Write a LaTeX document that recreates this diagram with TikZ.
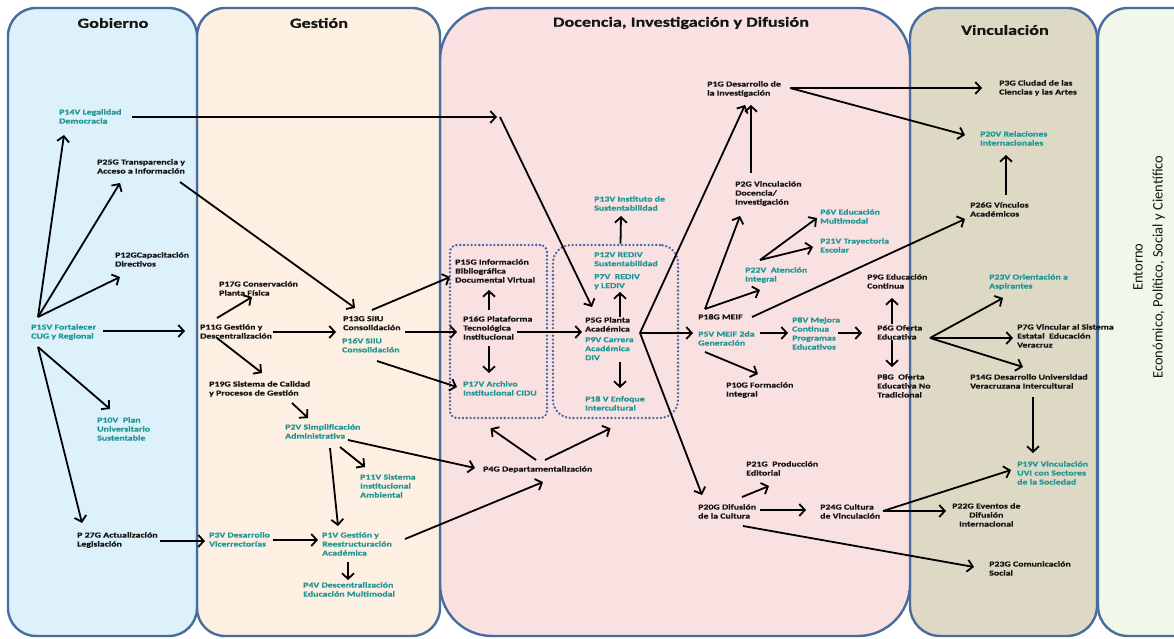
\documentclass[tikz,border=0pt]{standalone}
\usepackage{fontspec}
\usetikzlibrary{arrows.meta,calc}
\newfontfamily\labelface{Carlito}[FakeStretch=1.3, BoldFeatures={FakeBold=0.6}]
\newfontfamily\plainface{Carlito}
\definecolor{tealc}{RGB}{30,150,150}
\definecolor{ink}{RGB}{20,20,20}
\definecolor{frame}{RGB}{72,108,158}
\definecolor{dotc}{RGB}{70,100,160}
\definecolor{gobfill}{RGB}{221,241,250}
\definecolor{gesfill}{RGB}{253,239,225}
\definecolor{docfill}{RGB}{249,225,225}
\definecolor{vinfill}{RGB}{221,217,197}
\definecolor{entfill}{RGB}{241,248,233}
\tikzset{
  bk/.style={font=\labelface\bfseries\fontsize{7.6}{9}\selectfont, text=ink,
    align=left, inner sep=0pt, anchor=north west},
  tl/.style={bk, text=tealc},
  title/.style={font=\labelface\bfseries\fontsize{14}{16}\selectfont, text=ink, inner sep=0pt},
  panel/.style={draw=frame, line width=2.4pt},
  dotbox/.style={draw=dotc, line width=2.6pt, dash pattern=on 0pt off 3.8pt,
    line cap=round, inner sep=0pt},
  arr/.style={-{Straight Barb[length=5.5pt,width=12pt]}, line width=1.8pt, black},
}
\begin{document}
\begin{tikzpicture}[x=1pt,y=-1pt]
\useasboundingbox (0,0) rectangle (1174,639);
\fill[white] (0,0) rectangle (1174,639);
\begin{scope}
\clip (0,0) rectangle (1174,639);
% column panels
\draw[panel, fill=entfill, rounded corners=30pt] (1098,8) rectangle (1240,636);
\draw[panel, fill=vinfill, rounded corners=30pt] (910,8) rectangle (1097,636);
\draw[panel, fill=docfill, rounded corners=52pt] (440,8) rectangle (910,636);
\draw[panel, fill=gesfill, rounded corners=28pt] (197,8) rectangle (440,636);
\draw[panel, fill=gobfill, rounded corners=28pt] (8,8) rectangle (197,636);
\end{scope}

% column titles
\node[title] (tgob) at (113,23) {Gobierno};
\node[title] (tges) at (319,23) {Gestión};
\node[title] (tdoc) at (681,23) {Docencia, Investigación y Difusión};
\node[title] (tvin) at (1005,30) {Vinculación};
\node[rotate=90, align=center, inner sep=0pt, text=ink,
  font=\plainface\fontsize{14.5}{20}\selectfont] (tent) at (1149,267)
  {Entorno\\Económico, Político, Social y Científico};

% dotted groups
\node[dotbox, rounded corners=7pt, minimum width=97pt, minimum height=173pt] (box1) at (498.5,331.5) {};
\node[dotbox, rounded corners=18pt, minimum width=125pt, minimum height=173pt] (box2) at (615.5,331.5) {};

% Gobierno
\node[tl] (p14v) at (59,109) {P14V Legalidad\\Democracia};
\node[bk] (p25g) at (97,159) {P25G Transparencia y\\Acceso a Información};
\node[bk] (p12g) at (115,252) {P12GCapacitación\\Directivos};
\node[tl] (p15v) at (31,324) {P15V Fortalecer\\CUG y Regional};
\node[tl] (p10v) at (97,417) {P10V\ \ Plan\\Universitario\\Sustentable};
\node[bk] (p27g) at (77,532) {P 27G Actualización\\Legislación};
% Gestion
\node[bk] (p17g) at (219,281) {P17G Conservación\\Planta Física};
\node[bk] (p11g) at (200,324) {P11G Gestión y\\Descentralización};
\node[bk] (p19g) at (209,381) {P19G Sistema de Calidad\\y Procesos de Gestión};
\node[bk] (p13g) at (343,316) {P13G SIIU\\Consolidación};
\node[tl] (p16v) at (342,338) {P16V SIIU\\Consolidación};
\node[tl] (p2v) at (285,424) {P2V Simplificación\\Administrativa};
\node[tl] (p11v) at (360,474) {P11V Sistema\\Institucional\\Ambiental};
\node[tl] (p3v) at (209,532) {P3V Desarrollo\\Vicerrectorías};
\node[tl] (p1v) at (322,532) {P1V Gestión y\\Reestructuración\\Académica};
\node[tl] (p4v) at (303,582) {P4V Descentralización\\Educación Multimodal};
% Docencia, Investigacion y Difusion
\node[bk] (p15g) at (455,259) {P15G Información\\Bibliográfica\\Documental Virtual};
\node[bk] (p16g) at (463,316) {P16G Plataforma\\Tecnológica\\Institucional};
\node[tl] (p17v) at (463,381) {P17V Archivo\\Institucional CIDU};
\node[tl] (p13v) at (594,196) {P13V Instituto de\\Sustentabilidad};
\node[tl] (p12v) at (594,252) {P12V REDIV\\Sustentabilidad};
\node[tl] (p7v) at (594,274) {P7V\ \ REDIV\\y LEDIV};
\node[bk] (p5g) at (585,317) {P5G Planta\\Académica};
\node[tl] (p9v) at (585,337) {P9V Carrera\\Académica\\DIV};
\node[tl] (p18v) at (585,396) {P18 V Enfoque\\Intercultural};
\node[bk] (p4g) at (483,466) {P4G Departamentalización};
\node[bk] (p1g) at (707,81) {P1G Desarrollo de\\la Investigación};
\node[bk] (p2g) at (735,181) {P2G Vinculación\\Docencia/\\Investigación};
\node[tl] (p6v) at (820,209) {P6V Educación\\Multimodal};
\node[tl] (p21v) at (820,238) {P21V Trayectoria\\Escolar};
\node[tl] (p22v) at (745,267) {P22V\ \ Atención\\Integral};
\node[bk] (p18g) at (698,314) {P18G MEIF};
\node[tl] (p5v) at (698,331) {P5V MEIF 2da\\Generación};
\node[tl] (p8v) at (792,317) {P8V Mejora\\Continua\\Programas\\Educativos};
\node[bk] (p10g) at (726,382) {P10G Formación\\Integral};
\node[bk] (p9g) at (867,274) {P9G Educación\\Continua};
\node[bk] (p6g) at (877,325) {P6G Oferta\\Educativa};
\node[bk] (p8g) at (877,374) {P8G\ \ Oferta\\Educativa No\\Tradicional};
\node[bk] (p20g) at (698,504) {P20G Difusión\\de la Cultura};
\node[bk] (p21g) at (746,461) {P21G\ \ Producción\\Editorial};
\node[bk] (p24g) at (820,504) {P24G Cultura\\de Vinculación};
% Vinculacion
\node[bk] (p3g) at (999,80) {P3G Ciudad de las\\Ciencias y las Artes};
\node[tl] (p20v) at (980,131) {P20V Relaciones\\Internacionales};
\node[bk] (p26g) at (970,202) {P26G Vínculos\\Académicos};
\node[tl] (p23v) at (989,274) {P23V Orientación a\\Aspirantes};
\node[bk] (p7g) at (1017,324) {P7G Vincular al Sistema\\Estatal\ \ Educación\\Veracruz};
\node[bk] (p14g) at (970,374) {P14G Desarrollo Universidad\\Veracruzana Intercultural};
\node[tl] (p19v) at (1017,461) {P19V Vinculación\\UVI con Sectores\\de la Sociedad};
\node[bk, align=center] (p22g) at (952,503) {P22G Eventos de\\Difusión\\Internacional};
\node[bk] (p23g) at (989,561) {P23G Comunicación\\Social};

% branching points of the fans
\coordinate (f15a) at ($(p15v.north west)+(7,-7)$);
\coordinate (f15b) at ($(p15v.north west)+(7,23)$);
\coordinate (bend14) at ($(p14v.north west)+(441,8)$);
\coordinate (f5) at ($(p5g.north west)+(55,16)$);
\coordinate (f18) at ($(p18g.north west)+(7,-5)$);
\coordinate (f22) at ($(p22v.north west)+(15,-7)$);
\coordinate (f1) at ($(p1g.north west)+(83,7)$);
\coordinate (f6) at ($(p6g.north west)+(53,13)$);
\coordinate (f24) at ($(p24g.north west)+(63,7)$);

% Gobierno connectors
\draw[arr] (f15a) -- ($(p14v.north west)+(5,26)$);
\draw[arr] (f15a) -- ($(p25g.north west)+(23,24)$);
\draw[arr] (f15a) -- ($(p12g.north west)+(5,25)$);
\draw[arr] ($(p15v.north west)+(72,7)$) -- ($(p11g.north west)+(-15,7)$);
\draw[arr] (f15b) -- ($(p10v.north west)+(13,-8)$);
\draw[arr] (f15b) -- ($(p27g.north west)+(5,-9)$);
\draw[arr] ($(p27g.north west)+(83,9)$) -- ($(p3v.north west)+(-4,9)$);
\draw[arr] ($(p14v.north west)+(73,8)$) -- ($(bend14)+(-3,0)$);
\draw[arr] (bend14) -- ($(p5g.north west)+(7,-10)$);
\draw[arr] ($(p25g.north west)+(83,23)$) -- ($(p13g.north west)+(12,-8)$);

% Gestion connectors
\draw[arr] ($(p3v.north west)+(64,8)$) -- ($(p1v.north west)+(-4,8)$);
\draw[arr] ($(p1v.north west)+(26,30)$) -- ($(p4v.north west)+(45,-2)$);
\draw[arr] ($(p1v.north west)+(83,7)$) -- ($(p4g.north west)+(60,16)$);
\draw[arr] ($(p19g.north west)+(83,22)$) -- ($(p2v.north west)+(23,-6)$);
\draw[arr] ($(p2v.north west)+(45,24)$) -- ($(p1v.north west)+(16,-6)$);
\draw[arr] ($(p2v.north west)+(55,23)$) -- ($(p11v.north west)+(5,-7)$);
\draw[arr] ($(p2v.north west)+(63,16)$) -- ($(p4g.north west)+(-8,2)$);
\draw[arr] ($(p11g.north west)+(17,-6)$) -- ($(p17g.north west)+(33,16)$);
\draw[arr] ($(p11g.north west)+(73,8)$) -- ($(p13g.north west)+(-7,16)$);
\draw[arr] ($(p11g.north west)+(17,14)$) -- ($(p19g.north west)+(53,-8)$);
\draw[arr] ($(p13g.north west)+(29,-6)$) -- ($(p15g.north west)+(-5,18)$);
\draw[arr] ($(p13g.north west)+(62,16)$) -- ($(p16g.north west)+(-6,16)$);
\draw[arr] ($(p16v.north west)+(35,23)$) -- ($(p17v.north west)+(-6,6)$);

% Docencia connectors
\draw[arr] ($(p16g.north west)+(26,-6)$) -- ($(p15g.north west)+(34,31)$);
\draw[arr] ($(p16g.north west)+(26,30)$) -- ($(p17v.north west)+(26,-8)$);
\draw[arr] ($(p16g.north west)+(54,16)$) -- ($(p5g.north west)+(-3,15)$);
\draw[arr] ($(p5g.north west)+(35,0)$) -- ($(p7v.north west)+(26,18)$);
\draw[arr] ($(box2.north)+(5,0)$) -- ($(p13v.north west)+(27,20)$);
\draw[arr] ($(p9v.north west)+(35,25)$) -- ($(p18v.north west)+(35,-8)$);
\draw[arr] (f5) -- ($(p18g.north west)+(-5,19)$);
\draw[arr] (f5) -- ($(p1g.north west)+(38,24)$);
\draw[arr] (f5) -- ($(p20g.north west)+(4,-9)$);
\draw[arr] ($(p4g.north west)+(53,-6)$) -- ($(box1.south)+(-8,9)$);
\draw[arr] ($(p4g.north west)+(62,-6)$) -- ($(box2.south)+(-5,9)$);
\draw[arr] ($(p20g.north west)+(44,-7)$) -- ($(p21g.north west)+(23,25)$);
\draw[arr] ($(p20g.north west)+(62,6)$) -- ($(p24g.north west)+(-14,6)$);
\draw[arr] ($(p20g.north west)+(45,22)$) -- ($(p23g.north west)+(-15,6)$);
\draw[arr] (f24) -- ($(p22g.north west)+(-6,8)$);
\draw[arr] (f24) -- ($(p19v.north west)+(-6,9)$);
\draw[arr] ($(p5v.north west)+(62,2)$) -- ($(p8v.north west)+(-4,16)$);
\draw[arr] ($(p5v.north west)+(7,21)$) -- ($(p10g.north west)+(32,-8)$);
\draw[arr] (f18) -- ($(p22v.north west)+(15,23)$);
\draw[arr] (f18) -- ($(p2g.north west)+(5,35)$);
\draw[arr] ($(p18g.north west)+(54,3)$) -- ($(p26g.north west)+(-5,17)$);
\draw[arr] ($(p2g.north west)+(16,-8)$) -- ($(p1g.north west)+(44,24)$);
\draw[arr] (f22) -- ($(p6v.north west)+(-3,9)$);
\draw[arr] (f22) -- ($(p21v.north west)+(-7,9)$);
\draw[arr] ($(p8v.north west)+(46,16)$) -- ($(p6g.north west)+(-15,8)$);
\draw[arr] ($(p6g.north west)+(15,-1)$) -- ($(p9g.north west)+(25,24)$);
\draw[arr] ($(p6g.north west)+(15,15)$) -- ($(p8g.north west)+(15,-7)$);

% Vinculacion connectors
\draw[arr] (f1) -- ($(p3g.north west)+(-17,8)$);
\draw[arr] (f1) -- ($(p20v.north west)+(-15,4)$);
\draw[arr] ($(p26g.north west)+(36,-7)$) -- ($(p20v.north west)+(26,24)$);
\draw[arr] (f6) -- ($(p7g.north west)+(-4,14)$);
\draw[arr] (f6) -- ($(p14g.north west)+(53,-7)$);
\draw[arr] (f6) -- ($(p23v.north west)+(14,24)$);
\draw[arr] ($(p14g.north west)+(63,23)$) -- ($(p19v.north west)+(16,-8)$);
\end{tikzpicture}
\end{document}
